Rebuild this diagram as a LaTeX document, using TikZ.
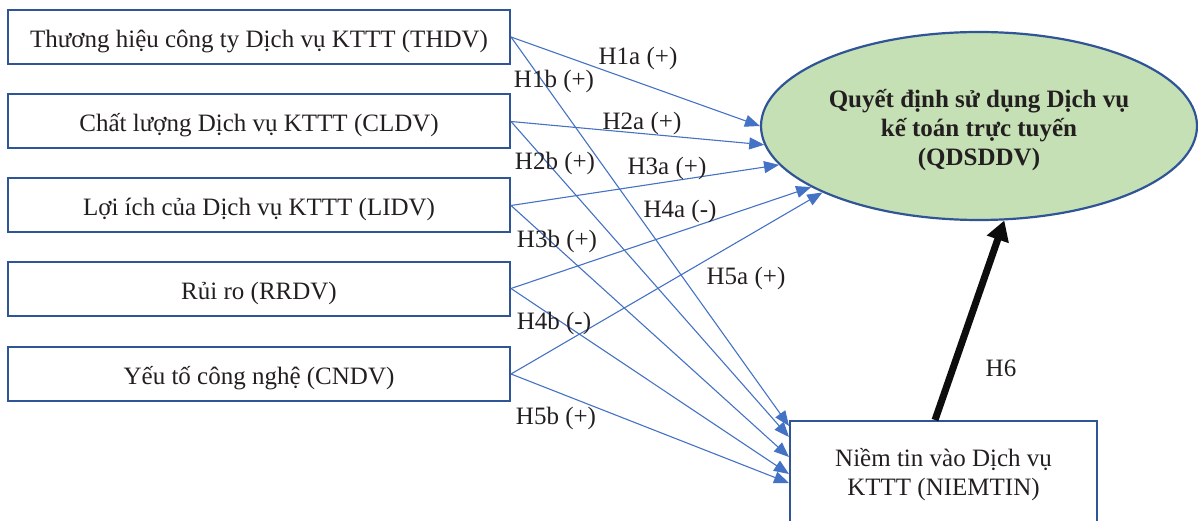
\documentclass[tikz,border=0pt]{standalone}
\usepackage{fontspec}
\setmainfont{Liberation Serif}
\usepackage{xcolor}
\usepackage{tikz}
\usetikzlibrary{shapes.geometric, arrows.meta, calc}

\begin{document}
\begin{tikzpicture}[
    x=1pt, y=1pt,
    font=\fontsize{25}{29}\selectfont,
    factor/.style={draw=boxblue, line width=2pt, minimum width=502pt, minimum height=54pt, inner sep=0pt,
                   text height=24pt, text depth=3pt, text=txtgray},
    hyp/.style={draw=arrblue, line width=1.1pt, -{Triangle[length=15pt, width=12pt]}},
    lbl/.style={text=txtgray, inner sep=0pt}
]
% Define colors
\definecolor{boxblue}{RGB}{47,85,151}
\definecolor{arrblue}{RGB}{68,114,196}
\definecolor{ellgreen}{RGB}{197,224,180}
\definecolor{txtgray}{RGB}{35,31,32}

\path[use as bounding box, clip] (0,0) rectangle (1198,520);

% Column positions
\def\colL{259}     % factor boxes
\def\colE{979}     % decision ellipse
\def\colT{943.5}   % trust box

% Row positions (top to bottom)
\def\rowA{483}     % THDV
\def\rowB{398.5}   % CLDV
\def\rowC{314.5}   % LIDV
\def\rowD{231.5}   % RRDV
\def\rowE{146}     % CNDV

% Factor boxes
\node[factor] (thdv) at (\colL,\rowA) {Thương hiệu công ty Dịch vụ KTTT (THDV)};
\node[factor] (cldv) at (\colL,\rowB) {Chất lượng Dịch vụ KTTT (CLDV)};
\node[factor] (lidv) at (\colL,\rowC) {Lợi ích của Dịch vụ KTTT (LIDV)};
\node[factor] (rrdv) at (\colL,\rowD) {Rủi ro (RRDV)};
\node[factor] (cndv) at (\colL,\rowE) {Yếu tố công nghệ (CNDV)};

% Decision ellipse
\node[ellipse, draw=boxblue, line width=2.2pt, fill=ellgreen, minimum width=436pt, minimum height=188pt,
      inner sep=0pt] (qdsd) at (\colE,394) {};
\node[align=center, text=txtgray, font=\fontsize{25}{29}\selectfont\bfseries]
      (qdsdtext) at (\colE,389.5) {Quyết định sử dụng Dịch vụ\\kế toán trực tuyến\\(QDSDDV)};

% Trust box (runs past the bottom edge)
\node[draw=boxblue, line width=2pt, minimum width=307pt, minimum height=108pt, inner sep=0pt,
      align=center, text=txtgray] (niemtin) at (\colT,45) {Niềm tin vào Dịch vụ\\KTTT (NIEMTIN)};

% a-paths: factors -> decision
\draw[hyp] (thdv.east) -- (qdsd.180);
\draw[hyp] (cldv.east) -- (qdsd.185);
\draw[hyp] (lidv.east) -- (qdsd.191);
\draw[hyp] (rrdv.east) -- (qdsd.200);
\draw[hyp] (cndv.east) -- (qdsd.203);

% b-paths: factors -> trust
\draw[hyp] (thdv.east) -- ($(niemtin.west)+(0,49)$);
\draw[hyp] (cldv.east) -- ($(niemtin.west)+(0,38)$);
\draw[hyp] (lidv.east) -- ($(niemtin.west)+(0,18)$);
\draw[hyp] (rrdv.east) -- ($(niemtin.west)+(0,1)$);
\draw[hyp] (cndv.east) -- ($(niemtin.west)+(0,-8)$);

% H6: trust -> decision
\draw[line width=7pt, draw=black!95, -{Triangle[length=20pt, width=22pt]}]
    ($(niemtin.north)+(-8.5,0)$) -- (qdsd.-75);

% Path labels
\node[lbl] (h1a) at (638,462) {H1a (+)};
\node[lbl] (h1b) at (554,439) {H1b (+)};
\node[lbl] (h2a) at (642,397) {H2a (+)};
\node[lbl] (h2b) at (555,357) {H2b (+)};
\node[lbl] (h3a) at (667,352) {H3a (+)};
\node[lbl] (h3b) at (557,279) {H3b (+)};
\node[lbl] (h4a) at (680,309) {H4a (-)};
\node[lbl] (h4b) at (554,197) {H4b (-)};
\node[lbl] (h5a) at (746,242) {H5a (+)};
\node[lbl] (h5b) at (556,102) {H5b (+)};
\node[lbl] (h6) at (1001,152) {H6};

\end{tikzpicture}
\end{document}
